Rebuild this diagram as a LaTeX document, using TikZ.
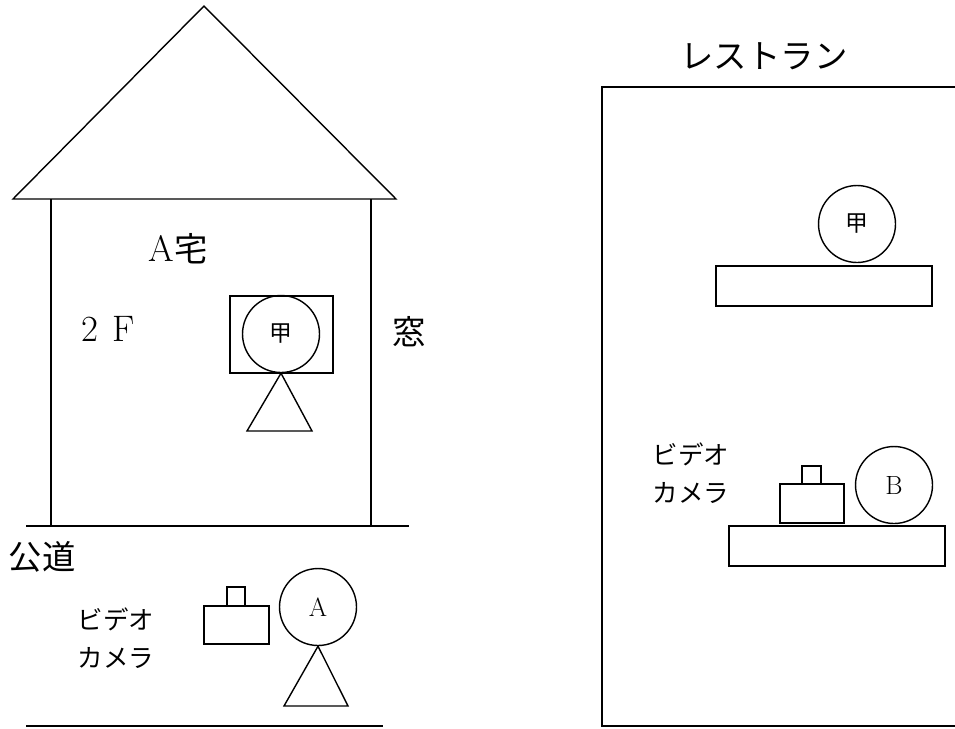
\documentclass[tikz,border=0pt]{standalone}
\usepackage{fontspec}
\newfontfamily\jp{Noto Sans CJK JP}

\begin{document}
\begin{tikzpicture}[x=0.02cm,y=-0.02cm,line width=0.8pt]
  \useasboundingbox (0,0) rectangle (955,728);
  \tikzstyle{Head}=[circle,draw,minimum size=1.54cm,inner sep=0pt]
  \tikzstyle{BigText}=[font=\jp\fontsize{19}{22}\selectfont]
  \tikzstyle{LatinText}=[font=\fontsize{21}{22}\selectfont]
  \tikzstyle{SmallText}=[font=\jp\fontsize{14.5}{22}\selectfont,align=center]
  \tikzstyle{HeadText}=[font=\jp\fontsize{13}{13}\selectfont]

  % house A
  \coordinate (roofL) at (13,199);
  \coordinate (roofT) at (204,6);
  \coordinate (roofR) at (396,199);
  \draw (roofL) -- (roofT) -- (roofR) -- cycle;
  \draw (51,199) -- (51,526);
  \draw (371,199) -- (371,526);
  \draw (26,526) -- (409,526);

  \node [BigText] (house) at (178,249) {{\rmfamily\fontsize{21}{22}\selectfont A}宅};
  \node [LatinText] (floor) at (108,329) {2\hspace{0.4em}F};
  \node [BigText] (mado) at (409,332) {窓};

  % window, person at the window
  \draw (230,296) rectangle (333,373);
  \node [Head,HeadText] (ko1) at (281,334) {甲};
  \draw (ko1.south) -- (247,431) -- (312,431) -- cycle;

  % road
  \node [BigText] (road) at (42,557) {公道};
  \node [SmallText] (cam1) at (116,638) {ビデオ\\カメラ};
  \draw (204,606) rectangle (269,644);
  \draw (227,587) rectangle (245,606);
  \node [Head,font=\fontsize{15}{15}\selectfont] (a) at (318,607) {A};
  \draw (a.south) -- (284,706) -- (348,706) -- cycle;
  \draw (26,726) -- (383,726);

  % restaurant
  \node [BigText] (rest) at (764,56) {レストラン};
  \draw (602,87) rectangle (965,726);

  \draw (716,266) rectangle (932,306);
  \node [Head,HeadText] (ko2) at (857,224) {甲};

  \node [SmallText] (cam2) at (691,473) {ビデオ\\カメラ};
  \draw (729,526) rectangle (945,566);
  \draw (780,484) rectangle (844,523);
  \draw (802,466) rectangle (821,484);
  \node [Head,font=\fontsize{15}{15}\selectfont] (b) at (894,485) {B};

%  \node [BigText] at (500,20) {};

\end{tikzpicture}
\end{document}
